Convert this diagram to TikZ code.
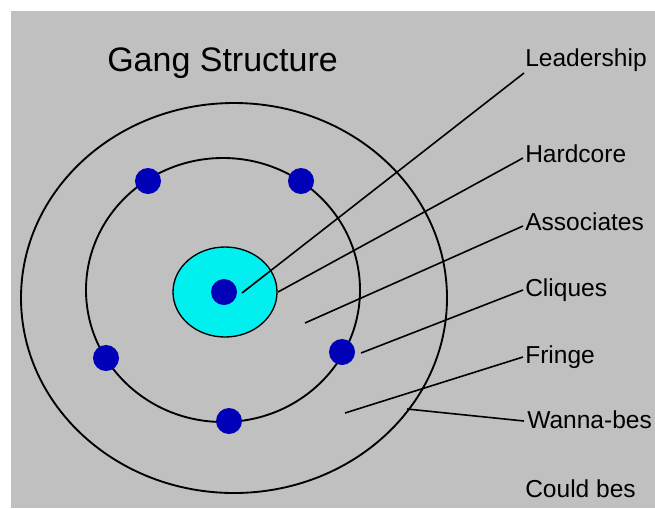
\documentclass[tikz,border=0pt]{standalone}
\usepackage{fontspec}
\setmainfont{Liberation Sans}
\usetikzlibrary{shapes.geometric}
\definecolor{panelgray}{HTML}{C0C0C0}
\definecolor{corecyan}{HTML}{00F0F0}
\definecolor{dotblue}{HTML}{0000B8}

\begin{document}
\begin{tikzpicture}[
  x=0.75pt, y=-0.75pt,
  ring/.style={draw, ellipse, line width=1.4pt, inner sep=0pt},
  core/.style={draw, ellipse, fill=corecyan, line width=1pt, inner sep=0pt, minimum width=78pt, minimum height=67.5pt},
  member/.style={circle, fill=dotblue, inner sep=0pt, minimum size=19.5pt},
  tag/.style={anchor=base west, inner sep=0pt, font=\fontsize{18.4}{20}\selectfont},
  pointer/.style={line width=1.2pt}
]
\useasboundingbox (0,0) rectangle (655,508);
\fill[panelgray] (11,11) rectangle (655,508);
\node[anchor=base west, inner sep=0pt, font=\fontsize{25.5}{30}\selectfont] (title) at (107,71) {Gang Structure};
\node[ring, minimum width=319.5pt, minimum height=292.5pt] (outer) at (234,298) {};
\node[ring, minimum width=205.5pt, minimum height=198pt] (inner) at (223,290) {};
\node[core] (hub) at (225,292) {};
\node[member] (boss) at (224,292) {};
\node[member] (m1) at (148,181) {};
\node[member] (m2) at (301,181) {};
\node[member] (m3) at (106,358) {};
\node[member] (m4) at (342,352) {};
\node[member] (m5) at (229,421) {};
\node[tag] (lead) at (525,66) {Leadership};
\node[tag] (hard) at (525,162) {Hardcore};
\node[tag] (assoc) at (525,230) {Associates};
\node[tag] (cliq) at (525,296) {Cliques};
\node[tag] (fringe) at (525,363) {Fringe};
\node[tag] (wanna) at (527,428) {Wanna-bes};
\node[tag] (could) at (525,497) {Could bes};
\coordinate (pLead) at (242,293);
\coordinate (pHard) at (278,292);
\coordinate (pAssoc) at (305,323);
\coordinate (pCliq) at (361,353);
\coordinate (pFringe) at (345,413);
\coordinate (pWanna) at (407,409);
\draw[pointer] (pLead) -- ([xshift=-0.75pt,yshift=-5.25pt]lead.base west);
\draw[pointer] (pHard) -- ([xshift=-1.5pt,yshift=3pt]hard.base west);
\draw[pointer] (pAssoc) -- ([xshift=-1.5pt,yshift=3pt]assoc.base west);
\draw[pointer] (pCliq) -- ([xshift=-1.5pt,yshift=4.5pt]cliq.base west);
\draw[pointer] (pFringe) -- ([xshift=-1.5pt,yshift=4.5pt]fringe.base west);
\draw[pointer] (pWanna) -- ([xshift=-2.25pt,yshift=5.25pt]wanna.base west);
\end{tikzpicture}
\end{document}
